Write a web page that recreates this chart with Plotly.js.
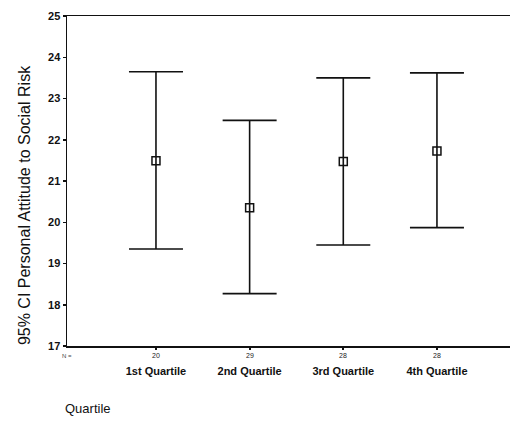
<!DOCTYPE html>
<html>
<head>
<meta charset="utf-8">
<script src="https://cdn.plot.ly/plotly-3.0.1.min.js"></script>
<style>html,body{margin:0;padding:0;background:#fff;}#chart{width:510px;height:426px;}</style>
</head>
<body>
<div id="chart"></div>
<script>
var categories = ["1st Quartile", "2nd Quartile", "3rd Quartile", "4th Quartile"];
var nCounts = ["20", "29", "28", "28"];
var means = [21.49, 20.35, 21.47, 21.73];
var upper = [23.65, 22.47, 23.50, 23.62];
var lower = [19.35, 18.27, 19.45, 19.87];
var yTicks = [17, 18, 19, 20, 21, 22, 23, 24, 25];

var xPos = categories.map(function(c, i){ return i + 1; });
var errPlus = means.map(function(m, i){ return upper[i] - m; });
var errMinus = means.map(function(m, i){ return m - lower[i]; });

var FONT = "Liberation Sans, Arial";

var trace = {
  x: xPos,
  y: means,
  type: "scatter",
  mode: "markers",
  marker: {symbol: "square-open", size: 8, color: "#111", line: {width: 1.5, color: "#111"}},
  error_y: {type: "data", symmetric: false, array: errPlus, arrayminus: errMinus,
            color: "#111", thickness: 1.6, width: 27},
  hoverinfo: "skip",
  showlegend: false
};

var annotations = nCounts.map(function(n, i){
  return {x: xPos[i], y: -0.012, xref: "x", yref: "paper", text: n, showarrow: false,
          xanchor: "center", yanchor: "top", font: {family: FONT, size: 7, color: "#222"}};
});
annotations.push({x: 0, y: -0.015, xref: "paper", yref: "paper", text: "N =", showarrow: false,
  xanchor: "center", yanchor: "top", font: {family: FONT, size: 6, color: "#444"}});
annotations.push({x: -0.01, y: -0.19, xref: "paper", yref: "paper", text: "Quartile", showarrow: false,
  xanchor: "left", yanchor: "middle", font: {family: FONT, size: 13, color: "#111"}});
annotations.push({x: -0.097, y: 0.427, xref: "paper", yref: "paper", text: "95% CI Personal Attitude to Social Risk",
  showarrow: false, textangle: -90, xanchor: "center", yanchor: "middle",
  font: {family: FONT, size: 16, color: "#111"}});

var layout = {
  width: 510, height: 426,
  margin: {l: 67, r: 0, t: 16, b: 80},
  paper_bgcolor: "#fff", plot_bgcolor: "#fff",
  font: {family: FONT, color: "#111"},
  xaxis: {
    range: [0.05, 4.78], tickvals: xPos, ticktext: categories,
    showgrid: false, zeroline: false, showline: true, linecolor: "#111", linewidth: 1.5, mirror: true,
    ticks: "outside", ticklen: 2, tickwidth: 2, tickcolor: "#111", ticklabelstandoff: 12,
    tickfont: {family: FONT, size: 11, color: "#111", weight: "bold"}
  },
  yaxis: {
    range: [17, 25], tickvals: yTicks, showgrid: false, zeroline: false,
    showline: true, linecolor: "#111", linewidth: 1.5,
    ticks: "outside", ticklen: 3, tickwidth: 1.5, tickcolor: "#111",
    tickfont: {family: FONT, size: 11, color: "#111", weight: "bold"}
  },
  annotations: annotations
};

Plotly.newPlot("chart", [trace], layout, {displayModeBar: false, staticPlot: true});
</script>
</body>
</html>
